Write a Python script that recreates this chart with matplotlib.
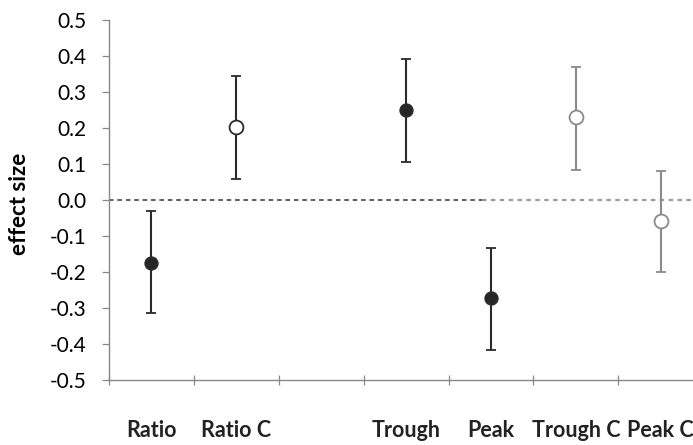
import numpy as np
import matplotlib.pyplot as plt

plt.rcParams['font.family'] = ['Lato', 'DejaVu Sans']

# categories as they sit on the category axis (slot 2 is empty)
etiquetas = ['Ratio', 'Ratio C', 'Trough', 'Peak', 'Trough C', 'Peak C']
ranuras = [0, 1, 3, 4, 5, 6]
efecto = [-0.174, 0.204, 0.251, -0.272, 0.230, -0.057]
ic_alto = [-0.030, 0.344, 0.391, -0.134, 0.369, 0.081]
ic_bajo = [-0.315, 0.058, 0.106, -0.418, 0.083, -0.200]
relleno = [True, False, True, True, False, False]
color_barra = ['#2b2b2b', '#2b2b2b', '#2b2b2b', '#2b2b2b', '#8a8a8a', '#8a8a8a']

fig = plt.figure(figsize=(6.93, 4.45), dpi=100)
ax = fig.add_axes([109 / 693, 65 / 445, 1 - 109 / 693, 360 / 445])

x = np.array(ranuras) + 0.5
for i in range(len(etiquetas)):
    yerr = [[efecto[i] - ic_bajo[i]], [ic_alto[i] - efecto[i]]]
    cara = '#262626' if relleno[i] else 'white'
    ax.errorbar(x[i], efecto[i], yerr=yerr, fmt='o', color=color_barra[i],
                ecolor=color_barra[i], elinewidth=1.5, capsize=3.5, capthick=1.5,
                markersize=9 if relleno[i] else 10, markerfacecolor=cara,
                markeredgecolor=color_barra[i], markeredgewidth=1.3, zorder=3)

# linea de referencia en cero, mas oscura a la izquierda
ax.plot([0, 4.4], [0, 0], ls=(0, (3, 2.5)), color='#333333', lw=1.1, zorder=1)
ax.plot([4.4, 7], [0, 0], ls=(0, (2, 2)), color='#9a9a9a', lw=1.6, zorder=1)

ax.set_xlim(0, 6.88)
ax.set_ylim(-0.5, 0.5)
marcas_y = np.round(np.arange(-0.5, 0.51, 0.1), 1)
ax.set_yticks(marcas_y)
ax.set_yticklabels([f'{v:.1f}'.replace('-0.0', '0.0') for v in marcas_y], fontsize=15)
ax.set_xticks(np.arange(0, 7))
ax.set_xticklabels([])
ax.tick_params(axis='x', direction='inout', length=7, width=0.9, color='#888888')
ax.tick_params(axis='y', direction='out', length=5, width=0.9, color='#888888', pad=11)

for lado in ['top', 'right']:
    ax.spines[lado].set_visible(False)
for lado in ['left', 'bottom']:
    ax.spines[lado].set_color('#888888')
    ax.spines[lado].set_linewidth(1.0)

for i, et in enumerate(etiquetas):
    ax.text(x[i], -0.14, et, transform=ax.get_xaxis_transform(), ha='center', va='center',
            fontsize=15.5, fontweight='bold', color='#222222')

ax.set_ylabel('effect size', fontsize=16, fontweight='bold')
ax.yaxis.set_label_coords(-0.135, 0.49)

fig.savefig('out.png', dpi=100)
